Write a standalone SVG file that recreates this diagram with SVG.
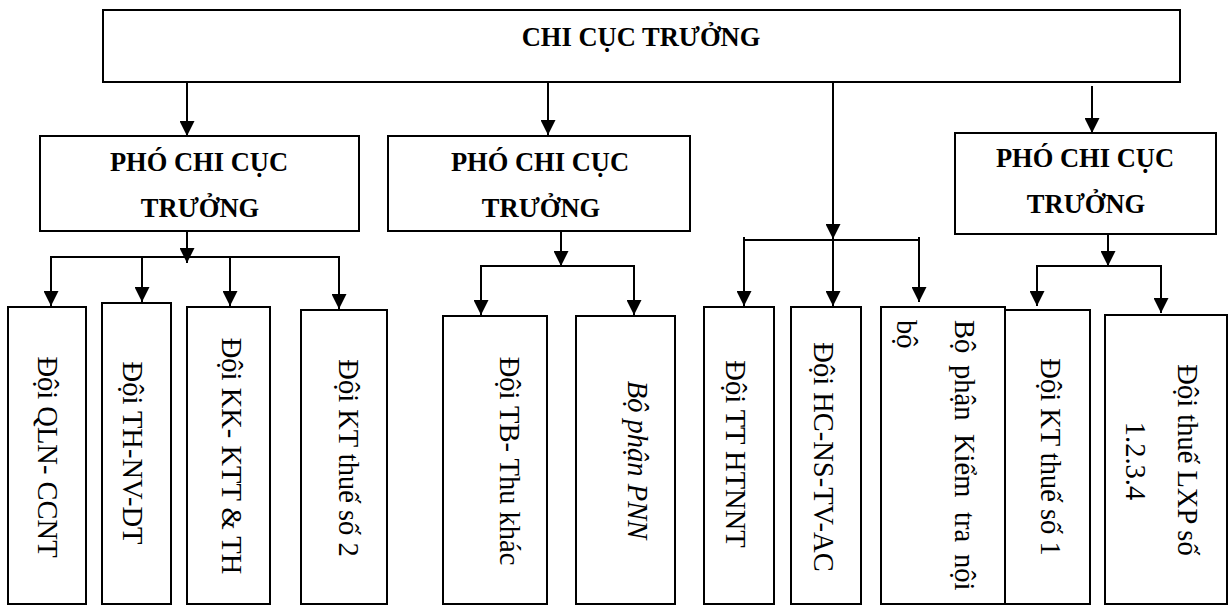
<svg xmlns="http://www.w3.org/2000/svg" width="1230" height="606" viewBox="0 0 1230 606">
<style>
.box{fill:#fff;stroke:#000;stroke-width:2}
.ln{fill:none;stroke:#000;stroke-width:2}
.ar{fill:none;stroke:#000;stroke-width:2;marker-end:url(#ah)}
.hb{font-family:"Liberation Serif","Times New Roman",serif;font-weight:bold;font-size:26.5px;text-anchor:middle;fill:#000}
.vt{font-family:"Liberation Serif","Times New Roman",serif;font-size:28.5px;text-anchor:middle;fill:#000}
.vl{font-family:"Liberation Serif","Times New Roman",serif;font-size:28.5px;fill:#000}
</style>
<defs>
<marker id="ah" viewBox="0 0 10 10" refX="10" refY="5" markerWidth="16" markerHeight="15" markerUnits="userSpaceOnUse" orient="auto">
<path d="M0,0 L10,5 L0,10 z" fill="#000"/>
</marker>
</defs>
<g id="connectors">
<line class="ar" x1="187" y1="82" x2="187" y2="136"/>
<line class="ar" x1="548" y1="82" x2="548" y2="135"/>
<line class="ar" x1="833" y1="82" x2="833" y2="239"/>
<line class="ar" x1="1092" y1="86" x2="1092" y2="133"/>
<line class="ar" x1="187" y1="231" x2="187" y2="263"/>
<line class="ln" x1="51" y1="257" x2="339" y2="257"/>
<line class="ar" x1="51" y1="256" x2="51" y2="306"/>
<line class="ar" x1="142" y1="256" x2="142" y2="302"/>
<line class="ar" x1="230" y1="256" x2="230" y2="306"/>
<line class="ar" x1="339" y1="256" x2="339" y2="309"/>
<line class="ar" x1="561" y1="231" x2="561" y2="266"/>
<line class="ln" x1="481" y1="266" x2="634" y2="266"/>
<line class="ar" x1="481" y1="265" x2="481" y2="315"/>
<line class="ar" x1="634" y1="265" x2="634" y2="315"/>
<line class="ln" x1="744" y1="240" x2="919" y2="240"/>
<line class="ar" x1="744" y1="237" x2="744" y2="306"/>
<line class="ar" x1="833" y1="239" x2="833" y2="306"/>
<line class="ar" x1="919" y1="237" x2="919" y2="302"/>
<line class="ar" x1="1108" y1="234" x2="1108" y2="266"/>
<line class="ln" x1="1037" y1="266" x2="1161" y2="266"/>
<line class="ar" x1="1037" y1="265" x2="1037" y2="306"/>
<line class="ar" x1="1161" y1="265" x2="1161" y2="313"/>
</g>
<g id="chi-cuc-truong">
<rect class="box" x="103" y="10" width="1077" height="72"/>
<text class="hb" x="641" y="46">CHI CỤC TRƯỞNG</text>
</g>
<g id="pho-1">
<rect class="box" x="40" y="136" width="319" height="95"/>
<text class="hb" x="199" y="171">PHÓ CHI CỤC</text>
<text class="hb" x="200" y="217">TRƯỞNG</text>
</g>
<g id="pho-2">
<rect class="box" x="388" y="136" width="302" height="95"/>
<text class="hb" x="540" y="171">PHÓ CHI CỤC</text>
<text class="hb" x="541" y="217">TRƯỞNG</text>
</g>
<g id="pho-3">
<rect class="box" x="955" y="133" width="261" height="101"/>
<text class="hb" x="1085" y="167">PHÓ CHI CỤC</text>
<text class="hb" x="1086" y="213">TRƯỞNG</text>
</g>
<g id="doi-qln">
<rect class="box" x="8" y="307" width="78" height="297"/>
<text class="vt" transform="translate(38,457) rotate(90)">Đội QLN- CCNT</text>
</g>
<g id="doi-th-nv">
<rect class="box" x="102" y="303" width="69" height="301"/>
<text class="vt" transform="translate(123,453) rotate(90)">Đội TH-NV-DT</text>
</g>
<g id="doi-kk">
<rect class="box" x="187" y="307" width="83" height="297"/>
<text class="vt" transform="translate(222,456) rotate(90)">Đội KK- KTT &amp; TH</text>
</g>
<g id="doi-kt2">
<rect class="box" x="301" y="310" width="86" height="294"/>
<text class="vt" transform="translate(339,458) rotate(90)">Đội KT thuế số 2</text>
</g>
<g id="doi-tb">
<rect class="box" x="443" y="316" width="104" height="288"/>
<text class="vt" transform="translate(500,461) rotate(90)">Đội TB- Thu khác</text>
</g>
<g id="bo-phan-pnn">
<rect class="box" x="576" y="316" width="99" height="288"/>
<text class="vt" font-style="italic" transform="translate(628,460) rotate(90)">Bộ phận PNN</text>
</g>
<g id="doi-tt">
<rect class="box" x="704" y="307" width="70" height="297"/>
<text class="vt" transform="translate(726,454) rotate(90)">Đội TT HTNNT</text>
</g>
<g id="doi-hc">
<rect class="box" x="791" y="307" width="70" height="297"/>
<text class="vt" transform="translate(814,457) rotate(90)">Đội HC-NS-TV-AC</text>
</g>
<g id="bo-phan-ktnb">
<rect class="box" x="881" y="307" width="124" height="297"/>
<text class="vl" transform="translate(955,0) rotate(90)"><tspan x="320" y="0">Bộ</tspan><tspan x="365" y="0">phận</tspan><tspan x="434" y="0">Kiểm</tspan><tspan x="512" y="0">tra</tspan><tspan x="554" y="0">nội</tspan></text>
<text class="vl" transform="translate(897,0) rotate(90)"><tspan x="320" y="0">bộ</tspan></text>
</g>
<g id="doi-kt1">
<rect class="box" x="1005" y="310" width="85" height="294"/>
<text class="vt" transform="translate(1041,457) rotate(90)">Đội KT thuế số 1</text>
</g>
<g id="doi-lxp">
<rect class="box" x="1105" y="315" width="122" height="289"/>
<text class="vt" transform="translate(1178,460) rotate(90)">Đội thuế LXP số</text>
<text class="vt" transform="translate(1126,461) rotate(90)">1.2.3.4</text>
</g>
</svg>
